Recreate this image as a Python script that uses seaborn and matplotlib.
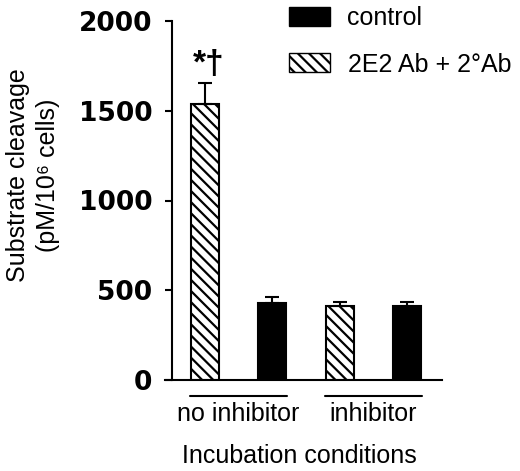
import numpy as np
import pandas as pd
import matplotlib
matplotlib.use("Agg")
import matplotlib.pyplot as plt
import matplotlib.transforms as mtransforms
from matplotlib.patches import Patch
import seaborn as sns

# ── Dati ────────────────────────────────────────────────────────────────────
conditions   = ["no inhibitor", "no inhibitor", "inhibitor", "inhibitor"]
treatments   = ["2E2 Ab + 2°Ab", "control", "2E2 Ab + 2°Ab", "control"]
cleavage     = [1535, 428, 410, 412]
sem          = [118, 36, 25, 24]
group_labels = ["no inhibitor", "inhibitor"]
legend_order = ["control", "2E2 Ab + 2°Ab"]
yticks       = [0, 500, 1000, 1500, 2000]
signif       = "*†"

sns.set_style("ticks")
plt.rcParams["font.family"] = ["Liberation Sans", "DejaVu Sans"]
plt.rcParams["hatch.linewidth"] = 1.6
for k in ["text.color", "axes.labelcolor", "xtick.color", "ytick.color",
          "axes.edgecolor"]:
    plt.rcParams[k] = "black"

df = pd.DataFrame({
    "bar": [f"{c} | {t}" for c, t in zip(conditions, treatments)],
    "condition": conditions,
    "treatment": treatments,
    "value": cleavage,
    "err": sem,
})

W, H = 520, 471
fig = plt.figure(figsize=(W / 100, H / 100), dpi=100)
ax = fig.add_axes([165 / W, 1 - 380 / H, 277 / W, 359 / H])

sns.barplot(data=df, x="bar", y="value", hue="treatment", dodge=False,
            palette={"control": "black", "2E2 Ab + 2°Ab": "white"},
            width=0.42, edgecolor="black", linewidth=1.5,
            errorbar=None, legend=False, ax=ax)

# hatch + posizioni barre
centers = {}
for p in ax.patches:
    xc = p.get_x() + p.get_width() / 2
    i = int(round(xc))
    centers[i] = xc
    if df.loc[i, "treatment"] != "control":
        p.set_hatch("\\\\\\")
        p.set_edgecolor("black")

xs = [centers[i] for i in range(len(df))]
ax.errorbar(xs, df["value"], yerr=[np.zeros(len(df)), df["err"]],
            fmt="none", ecolor="black", elinewidth=1.5, capsize=5, capthick=1.5,
            zorder=1)

ax.set_xlim(-0.594, 3.52)
ax.set_ylim(0, 2000)
ax.set_yticks(yticks, [str(v) for v in yticks])
ax.tick_params(axis="y", length=5, width=1.5, pad=9, labelsize=19)

sns.despine(ax=ax)
ax.spines["left"].set_position(("axes", 7 / 277))
ax.spines["left"].set_linewidth(1.5)
ax.spines["bottom"].set_linewidth(1.5)

# etichette gruppi + linee sotto l'asse
grp_centers = [np.mean([xs[i] for i in range(len(df)) if conditions[i] == g])
               for g in group_labels]
ax.set_xticks(grp_centers, group_labels)
ax.tick_params(axis="x", length=0, pad=16, labelsize=18)
trans = mtransforms.blended_transform_factory(ax.transData, ax.transAxes)
for c in grp_centers:
    ax.plot([c - 0.72, c + 0.72], [-0.045, -0.045], color="black", lw=1.5,
            transform=trans, clip_on=False)

ax.set_xlabel("Incubation conditions", fontsize=18)
ax.xaxis.set_label_coords(0.486, -0.178)
ax.set_ylabel("")

fig.text(33 / W, 1 - 175 / H, "Substrate cleavage\n(pM/10⁶ cells)",
         rotation=90, ha="center", va="center", fontsize=18, linespacing=1.35)

ax.text(xs[0] + 0.06, 1710, signif, ha="center", va="baseline",
        fontsize=24, fontweight="bold")

handles = [Patch(facecolor="black", edgecolor="black"),
           Patch(facecolor="white", edgecolor="black", hatch="\\\\\\")]
fig.legend(handles, legend_order, loc="upper left",
           bbox_to_anchor=(289 / W, 1 - 6 / H), frameon=False, fontsize=18,
           handlelength=1.64, handleheight=0.8, handletextpad=0.7,
           labelspacing=0.9, borderpad=0, borderaxespad=0)

# tick y in grassetto (dopo un primo draw, così i tick esistono già)
fig.canvas.draw()
for t in ax.yaxis.get_major_ticks():
    t.label1.set_fontfamily("DejaVu Sans")
    t.label1.set_fontweight("bold")
    t.label1.set_fontsize(19)

fig.savefig("out.png", dpi=100)
